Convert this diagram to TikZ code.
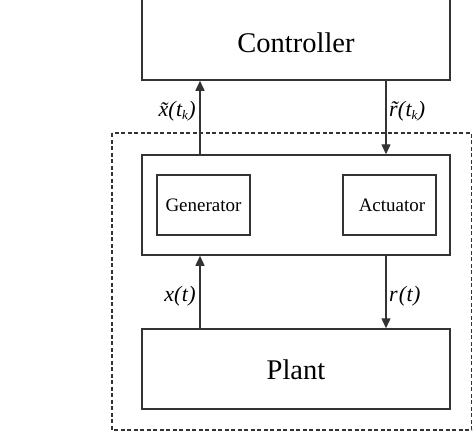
\documentclass[tikz,border=0pt]{standalone}
\usepackage{fontspec}
\setmainfont{Liberation Serif}
\usetikzlibrary{arrows.meta}
\newcommand{\sbk}{\raisebox{-0.35ex}{\fontsize{13}{14}\selectfont\itshape k}}
\begin{document}
\begin{tikzpicture}[x=1pt,y=-1pt,
  blk/.style={draw=black!80,line width=1.5pt,inner sep=0pt},
  arr/.style={draw=black!80,line width=1.4pt,-{Triangle[length=10pt,width=9pt]}},
  big/.style={font=\fontsize{28.5}{31}\selectfont},
  mid/.style={font=\fontsize{19}{22}\selectfont},
  lab/.style={font=\fontsize{22}{24}\selectfont\itshape,inner sep=0pt}]
\useasboundingbox (0,0) rectangle (474,432);
\clip (0,0) rectangle (474,432);
% dashed boundary
\draw[black!80,line width=1.6pt,dash pattern=on 4pt off 2.5pt] (112,133) rectangle (471.5,430);
% blocks
\node[blk,minimum width=308pt,minimum height=88pt] (ctrl) at (296,36) {};
\node[big] (ctrltext) at (296,43) {Controller};
\node[blk,minimum width=308pt,minimum height=100pt] (mid) at (296,205) {};
\node[blk,minimum width=93pt,minimum height=60pt] (gen) at (203.5,205) {};
\node[mid] (gentext) at (203.5,205) {Generator};
\node[blk,minimum width=93pt,minimum height=60pt] (act) at (389.5,205) {};
\node[mid] (acttext) at (392,205) {Actuator};
\node[blk,minimum width=308pt,minimum height=80pt] (plant) at (296,369) {};
\node[big] (planttext) at (296,370) {Plant};
% columns
\coordinate (xl) at (200,0);
\coordinate (xr) at (386,0);
% connectors
\draw[arr] (mid.north -| xl) -- (ctrl.south -| xl);
\draw[arr] (ctrl.south -| xr) -- (mid.north -| xr);
\draw[arr] (plant.north -| xl) -- (mid.south -| xl);
\draw[arr] (mid.south -| xr) -- (plant.north -| xr);
% labels
\node[lab,anchor=east] (lxk) at (196,111) {\~{x}(\kern0.5pt t\sbk\kern0.5pt)};
\node[lab,anchor=west] (lrk) at (389,111) {\~{r}(\kern0.5pt t\sbk\kern0.5pt)};
\node[lab,anchor=east] (lx) at (196,296) {x(\kern0.5pt t\kern0.5pt)};
\node[lab,anchor=west] (lr) at (389,296) {r\kern1pt(\kern0.5pt t\kern0.5pt)};
\end{tikzpicture}
\end{document}
